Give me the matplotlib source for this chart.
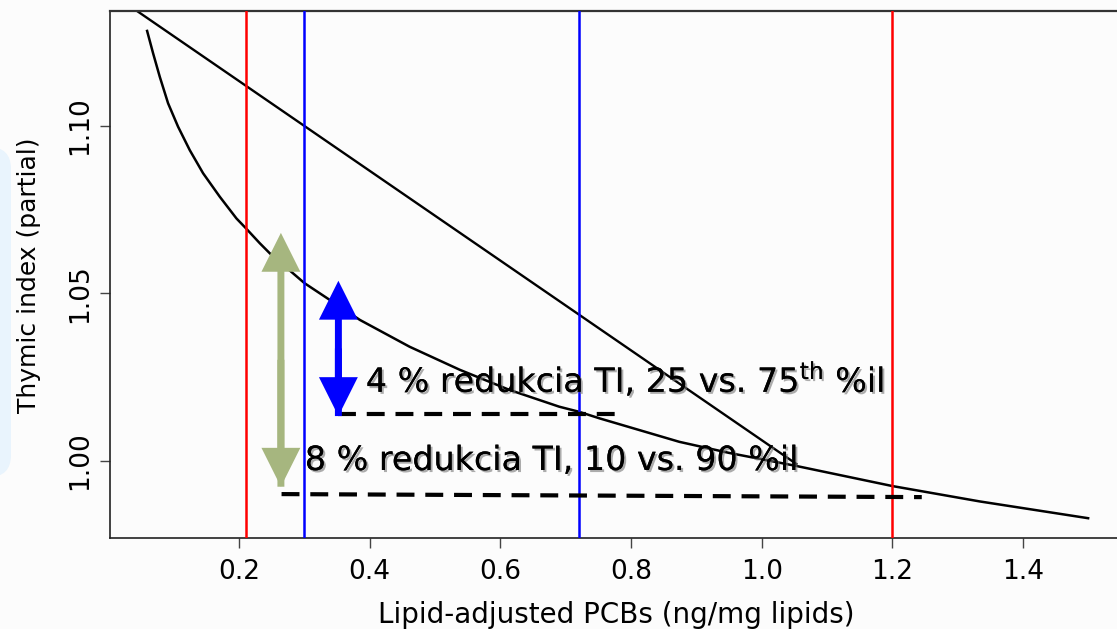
import matplotlib
matplotlib.use('Agg')
import matplotlib.pyplot as plt
from matplotlib.patches import FancyArrowPatch, FancyBboxPatch
from matplotlib.transforms import IdentityTransform
import matplotlib.patheffects as pe

plt.rcParams['font.family'] = ['DejaVu Sans']
plt.rcParams['mathtext.default'] = 'regular'

# ---- data ----
curve_x = [0.0592, 0.0684, 0.0786, 0.0913, 0.1066, 0.1245, 0.1449, 0.1704, 0.1960,
           0.2103, 0.2317, 0.247, 0.30, 0.385, 0.461, 0.538, 0.614, 0.690, 0.72,
           0.752, 0.874, 0.95, 1.053, 1.20, 1.334, 1.4996]
curve_y = [1.1284, 1.1217, 1.1147, 1.1068, 1.0998, 1.0928, 1.0859, 1.0789, 1.0724,
           1.0695, 1.0650, 1.0620, 1.0531, 1.0421, 1.0341, 1.0272, 1.0212, 1.0162, 1.0147,
           1.0127, 1.0057, 1.0024, 0.9985, 0.9925, 0.9879, 0.9829]
line_x = [0.03, 1.053]
line_y = [1.1362, 0.9991]
red_lines = [0.21, 1.20]
blue_lines = [0.30, 0.72]
xticks = [0.2, 0.4, 0.6, 0.8, 1.0, 1.2, 1.4]
xtick_labels = ['0.2', '0.4', '0.6', '0.8', '1.0', '1.2', '1.4']
yticks = [1.00, 1.05, 1.10]
ytick_labels = ['1.00', '1.05', '1.10']
dash1_x = [0.351, 0.775]
dash1_y = [1.0140, 1.0140]
dash2_x = [0.265, 1.245]
dash2_y = [0.9901, 0.9892]
green_arrow_x = 0.264
green_arrow_y = [0.9923, 1.0681]
blue_arrow_x = 0.352
blue_arrow_y = [1.0134, 1.0538]
label1 = "4 % redukcia TI, 25 vs. 75$^{th}$ %il"
label1_pos = (0.394, 1.0206)
label2 = "8 % redukcia TI, 10 vs. 90 %il"
label2_pos = (0.3006, 0.9973)
xlabel = "Lipid-adjusted PCBs (ng/mg lipids)"
ylabel = "Thymic index (partial)"

W, H = 1117, 629
fig = plt.figure(figsize=(W / 100, H / 100), dpi=100, facecolor='#FCFCFC')

# light blue slide decoration at left edge
deco = FancyBboxPatch((-40, H - 477), 51, 330, boxstyle='round,pad=0,rounding_size=22',
                      transform=IdentityTransform(), facecolor='#E9F4FD', edgecolor='none',
                      zorder=0)
fig.patches.append(deco)

ax = fig.add_axes([110 / W, 1 - 538.3 / H, (1126 - 110) / W, (538.3 - 10.5) / H])
ax.set_facecolor('none')
ax.set_xlim(0.0024, 1.5576)
ax.set_ylim(0.9769, 1.1345)

ax.plot(curve_x, curve_y, color='black', lw=1.8, zorder=2, solid_joinstyle='round')
ax.plot(line_x, line_y, color='black', lw=1.7, zorder=2)

for xv in red_lines:
    ax.axvline(xv, color='#FF0000', lw=1.8, zorder=3)
for xv in blue_lines:
    ax.axvline(xv, color='#0000FF', lw=1.8, zorder=3)

ax.plot(dash1_x, dash1_y, color='black', lw=3, ls=(0, (4.3, 2.6)), zorder=4)
ax.plot(dash2_x, dash2_y, color='black', lw=3, ls=(0, (4.3, 2.6)), zorder=4)

def double_arrow(x, ys, color):
    mid = (ys[0] + ys[1]) / 2
    style = 'simple,head_length=28,head_width=28,tail_width=5'
    # full-length arrow to the top tip, plus a half-length arrow to the bottom tip
    a1 = FancyArrowPatch((x, ys[0]), (x, ys[1]), arrowstyle=style, mutation_scale=1,
                         lw=0, color=color, shrinkA=0, shrinkB=0, zorder=5)
    a2 = FancyArrowPatch((x, mid), (x, ys[0]), arrowstyle=style, mutation_scale=1,
                         lw=0, color=color, shrinkA=0, shrinkB=0, zorder=5)
    ax.add_patch(a1)
    ax.add_patch(a2)

double_arrow(green_arrow_x, green_arrow_y, '#A6B67F')
double_arrow(blue_arrow_x, blue_arrow_y, '#0000FF')

shadow = [pe.withSimplePatchShadow(offset=(1.5, -1.5), shadow_rgbFace='#777777', alpha=0.6),
          pe.Normal()]
ax.text(label1_pos[0], label1_pos[1], label1, fontsize=24, ha='left', va='baseline',
        color='black', zorder=6, path_effects=shadow)
ax.text(label2_pos[0], label2_pos[1], label2, fontsize=24, ha='left', va='baseline',
        color='black', zorder=6, path_effects=shadow)

ax.set_xticks(xticks)
ax.set_xticklabels(xtick_labels)
ax.set_yticks(yticks)
ax.set_yticklabels(ytick_labels, rotation=90, va='center')
ax.tick_params(axis='both', direction='out', length=7, width=1, color='#444444',
               labelsize=19, labelcolor='black')
ax.tick_params(axis='x', pad=8)
ax.tick_params(axis='y', pad=5)

ax.spines['right'].set_visible(False)
for s in ['left', 'bottom']:
    ax.spines[s].set_color('#222222')
    ax.spines[s].set_linewidth(1.2)
ax.spines['top'].set_color('#333333')
ax.spines['top'].set_linewidth(1.6)

fig.text(616 / W, 1 - 623 / H, xlabel, fontsize=20, ha='center', va='baseline')
fig.text(29 / W, 1 - 275 / H, ylabel, fontsize=18, ha='center', va='center', rotation=90)

fig.savefig('out.png', dpi=100, facecolor=fig.get_facecolor())
